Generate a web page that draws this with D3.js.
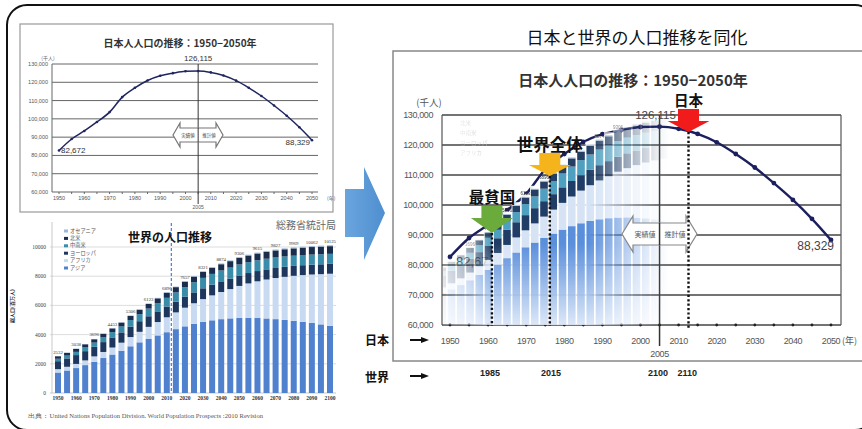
<!DOCTYPE html>
<html><head><meta charset="utf-8">
<script src="https://cdn.jsdelivr.net/npm/d3@7"></script>
<style>body{margin:0;background:#fff;}svg{display:block;}</style>
</head><body>
<svg id="c" width="862" height="429"></svg>
<script>
// ---------------- DATA ----------------
const jpYears = [1950,1955,1960,1965,1970,1975,1980,1985,1990,1995,2000,2005,2010,2015,2020,2025,2030,2035,2040,2045,2050];
const jpPop = [82672,89000,93400,98300,103700,111900,117000,121000,123600,125000,126000,126115,125400,123700,120900,117000,112500,107300,101700,95400,88329];
const jpYTicks = [60000,70000,80000,90000,100000,110000,120000,130000];
const jpXTicks = [1950,1960,1970,1980,1990,2000,2010,2020,2030,2040,2050];
const jpLabels = ["82,672","126,115","88,329"];

const worldYears = [1950,1955,1960,1965,1970,1975,1980,1985,1990,1995,2000,2005,2010,2015,2020,2025,2030,2035,2040,2045,2050,2055,2060,2065,2070,2075,2080,2085,2090,2095,2100];
const asia     = [1403,1542,1708,1910,2142,2395,2636,2896,3199,3470,3719,3945,4164,4375,4565,4730,4868,4978,5058,5110,5142,5150,5136,5105,5060,5006,4945,4878,4808,4700,4596];
const africa   = [229,254,285,322,366,416,478,550,632,720,811,916,1022,1145,1278,1417,1562,1710,1859,2008,2192,2355,2514,2668,2815,2952,3081,3198,3307,3440,3574];
const europe   = [547,575,604,634,656,676,693,706,721,727,727,729,738,740,744,744,741,736,730,723,719,711,702,694,688,684,680,678,676,675,675];
const latam    = [167,191,220,253,288,325,364,404,445,486,526,563,596,630,662,690,715,734,746,752,751,747,740,731,721,711,700,694,690,688,687];
const namerica = [172,187,204,219,231,242,254,267,282,300,316,331,345,361,376,391,405,418,428,438,447,456,465,474,482,491,500,508,516,523,526];
const oceania  = [13,14,16,18,20,21,23,25,27,29,31,34,37,39,42,45,47,50,52,54,55,57,58,60,61,62,63,64,65,66,66];
const worldTotalYears  = [1950,1960,1970,1980,1990,2000,2010,2020,2030,2040,2050,2060,2070,2080,2090,2100];
const worldTotalLabels = ["2532","3038","3696","4453","5306","6123","6896","7657","8321","8874","9306","9615","9827","9969","10062","10125"];
const overlayLabelYears = [1970,1980,1990,2000,2010,2040,2050];
const worldYTicks = [0,2000,4000,6000,8000,10000];
const worldXTicks = [1950,1960,1970,1980,1990,2000,2010,2020,2030,2040,2050,2060,2070,2080,2090,2100];
const regionKeys = ["asia","africa","europe","latam","namerica","oceania"];
const legendNames = ["オセアニア","北米","中南米","ヨーロッパ","アフリカ","アジア"];
const legendKeys  = ["oceania","namerica","latam","europe","africa","asia"];

const markWorld = ["1985","2015","2100","2110"];
const markJp    = [1960.5,1976.5,2004.6,2012.3];
const dottedJp  = [1961,1976.2,2012.6];
const arrowLabels = ["最貧国","世界全体","日本"];

// ---------------- SETUP ----------------
const JP = "'Noto Sans CJK JP','Noto Sans',sans-serif";
const NUM = "'Liberation Sans',Arial,sans-serif";
const SERIF = "'Liberation Serif','DejaVu Serif',serif";
const svg = d3.select("#c");
svg.append("rect").attr("width",862).attr("height",429).attr("fill","#fff");
const defs = svg.append("defs");

const rows = worldYears.map((y,i)=>({year:y,asia:asia[i],africa:africa[i],europe:europe[i],latam:latam[i],namerica:namerica[i],oceania:oceania[i]}));
const stacked = d3.stack().keys(regionKeys)(rows);
const totals = worldYears.map((yr,i)=>asia[i]+africa[i]+europe[i]+latam[i]+namerica[i]+oceania[i]);

// outer rounded frame
svg.append("rect").attr("x",7).attr("y",5).attr("width",868).attr("height",425).attr("rx",20)
  .attr("fill","none").attr("stroke","#111").attr("stroke-width",2);

function doubleArrow(g, x0, x1, yc, hh, sh, hl, stroke){
  const p = `M${x0},${yc} L${x0+hl},${yc-hh} L${x0+hl},${yc-sh} L${x1-hl},${yc-sh} L${x1-hl},${yc-hh} L${x1},${yc} L${x1-hl},${yc+hh} L${x1-hl},${yc+sh} L${x0+hl},${yc+sh} L${x0+hl},${yc+hh} Z`;
  return g.append("path").attr("d",p).attr("fill","#fff").attr("stroke",stroke).attr("stroke-width",1.2);
}

// ---------------- TOP-LEFT: Japan chart ----------------
{
  const g = svg.append("g");
  g.append("rect").attr("x",20).attr("y",24).attr("width",313).attr("height",188)
    .attr("fill","#fff").attr("stroke","#999").attr("stroke-width",1.2);
  g.append("text").attr("x",180).attr("y",47).attr("text-anchor","middle")
    .attr("font-family",JP).attr("font-weight","bold").attr("font-size",10).attr("fill","#333")
    .text("日本人人口の推移：1950−2050年");
  const x = d3.scaleLinear().domain([1950,2050]).range([59,312]);
  const y = d3.scaleLinear().domain([60000,130000]).range([192,64]);
  g.selectAll("line.gl").data(jpYTicks).join("line")
    .attr("x1",52).attr("x2",318).attr("y1",d=>y(d)).attr("y2",d=>y(d))
    .attr("stroke","#666").attr("stroke-width",d=>d===60000?1.2:1);
  g.append("line").attr("x1",52).attr("x2",52).attr("y1",y(130000)).attr("y2",y(60000)).attr("stroke","#666");
  g.selectAll("text.yl").data(jpYTicks).join("text")
    .attr("x",48).attr("y",d=>y(d)+2).attr("text-anchor","end")
    .attr("font-family",NUM).attr("font-size",5.5).attr("fill","#555")
    .text(d=>d3.format(",")(d));
  g.append("text").attr("x",48).attr("y",60).attr("text-anchor","middle")
    .attr("font-family",JP).attr("font-size",5).attr("fill","#666").text("(千人)");
  g.selectAll("text.xl").data(jpXTicks).join("text")
    .attr("x",d=>x(d)).attr("y",200).attr("text-anchor","middle")
    .attr("font-family",NUM).attr("font-size",5.5).attr("fill","#555").text(d=>d);
  g.append("text").attr("x",327).attr("y",200).attr("font-family",JP).attr("font-size",5).attr("fill","#555").text("(年)");
  g.selectAll("line.tk").data(jpYears).join("line")
    .attr("x1",d=>x(d)).attr("x2",d=>x(d)).attr("y1",192).attr("y2",194).attr("stroke","#666");
  g.append("line").attr("x1",x(2005)).attr("x2",x(2005)).attr("y1",y(130000)).attr("y2",204).attr("stroke","#333").attr("stroke-width",1);
  g.append("text").attr("x",x(2005)).attr("y",209).attr("text-anchor","middle")
    .attr("font-family",NUM).attr("font-size",5).attr("fill","#555").text("2005");
  doubleArrow(g, 173, 223, 135, 12, 7, 7, "#777");
  g.append("line").attr("x1",x(2005)).attr("x2",x(2005)).attr("y1",128).attr("y2",142).attr("stroke","#333");
  g.append("text").attr("x",188).attr("y",137).attr("text-anchor","middle").attr("font-family",JP).attr("font-size",4.5).attr("fill","#444").text("実績値");
  g.append("text").attr("x",209).attr("y",137).attr("text-anchor","middle").attr("font-family",JP).attr("font-size",4.5).attr("fill","#444").text("推計値");
  const line = d3.line().x((d,i)=>x(jpYears[i])).y(d=>y(d)).curve(d3.curveMonotoneX);
  g.append("path").attr("d",line(jpPop)).attr("fill","none").attr("stroke","#1f2560").attr("stroke-width",1.5);
  g.selectAll("circle").data(jpPop).join("circle").attr("cx",(d,i)=>x(jpYears[i])).attr("cy",d=>y(d)).attr("r",1.3).attr("fill","#1f2560");
  g.append("text").attr("x",61).attr("y",153).attr("font-family",NUM).attr("font-size",8).attr("fill","#333").text(jpLabels[0]);
  g.append("text").attr("x",x(2005)).attr("y",61).attr("text-anchor","middle").attr("font-family",NUM).attr("font-size",8).attr("fill","#333").text(jpLabels[1]);
  g.append("text").attr("x",310).attr("y",145).attr("text-anchor","end").attr("font-family",NUM).attr("font-size",8).attr("fill","#333").text(jpLabels[2]);
}

// ---------------- BOTTOM-LEFT: World chart ----------------
const worldColors = {asia:"#4f81cf",africa:"#c8daf2",europe:"#1d375e",latam:"#3a8cab",namerica:"#1b2d4c",oceania:"#9db7d8"};
{
  const g = svg.append("g");
  const x = d3.scaleLinear().domain([1950,2100]).range([58,330]);
  const y = d3.scaleLinear().domain([0,10000]).range([393,247]);
  g.append("text").attr("x",336).attr("y",229).attr("text-anchor","end")
    .attr("font-family",JP).attr("font-size",10).attr("fill","#666").text("総務省統計局");
  g.selectAll("line.gl").data(worldYTicks).join("line")
    .attr("x1",50).attr("x2",336).attr("y1",d=>y(d)).attr("y2",d=>y(d))
    .attr("stroke",d=>d===0?"#bbb":"#d4d4d4").attr("stroke-width",0.8);
  g.append("line").attr("x1",52).attr("x2",52).attr("y1",222).attr("y2",393).attr("stroke","#bbb").attr("stroke-width",0.8);
  g.selectAll("text.yl").data(worldYTicks).join("text")
    .attr("x",46).attr("y",d=>y(d)+2).attr("text-anchor","end")
    .attr("font-family",SERIF).attr("font-size",5.5).attr("fill","#444").text(d=>d);
  g.append("text").attr("transform","translate(14,306) rotate(-90)").attr("text-anchor","middle")
    .attr("font-family",JP).attr("font-weight","bold").attr("font-size",5).attr("fill","#333").text("総人口(百万人)");
  g.selectAll("g.s").data(stacked).join("g").attr("fill",d=>worldColors[d.key])
    .selectAll("rect").data(d=>d).join("rect")
    .attr("x",d=>x(d.data.year)-3).attr("width",6)
    .attr("y",d=>y(d[1])).attr("height",d=>Math.max(0,y(d[0])-y(d[1])));
  g.selectAll("text.tl").data(worldTotalYears).join("text")
    .attr("x",d=>x(d)).attr("y",d=>y(totals[worldYears.indexOf(d)])-2.5).attr("text-anchor","middle")
    .attr("font-family",SERIF).attr("font-size",4.8).attr("fill","#333")
    .text((d,i)=>worldTotalLabels[i]);
  g.selectAll("text.xl").data(worldXTicks).join("text")
    .attr("x",d=>x(d)).attr("y",400).attr("text-anchor","middle")
    .attr("font-family",SERIF).attr("font-weight","bold").attr("font-size",5.5).attr("fill","#333").text(d=>d);
  g.append("line").attr("x1",x(2012.5)).attr("x2",x(2012.5)).attr("y1",223).attr("y2",393)
    .attr("stroke","#4a7fd4").attr("stroke-width",1.2).attr("stroke-dasharray","3,2");
  legendKeys.forEach((k,i)=>{
    g.append("rect").attr("x",64).attr("y",229.5+i*7.4).attr("width",4).attr("height",3).attr("fill",worldColors[k]);
    g.append("text").attr("x",70).attr("y",232.5+i*7.4).attr("font-family",JP).attr("font-size",5.2).attr("fill","#555").text(legendNames[i]);
  });
  g.append("text").attr("x",170).attr("y",242).attr("text-anchor","middle")
    .attr("font-family",JP).attr("font-weight","bold").attr("font-size",12).attr("fill","#111").text("世界の人口推移");
  g.append("text").attr("x",28).attr("y",418).attr("textLength",235).attr("lengthAdjust","spacingAndGlyphs")
    .attr("font-family",SERIF).attr("font-size",5.5).attr("fill","#555")
    .text("出典：United Nations Population Division. World Population Prospects :2010 Revision");
}

// ---------------- Big blue arrow ----------------
defs.append("linearGradient").attr("id","bg").attr("x1",0).attr("y1",0).attr("x2",1).attr("y2",0)
  .selectAll("stop").data([["0%","#6aa5dd"],["100%","#4f8fd0"]]).join("stop")
  .attr("offset",d=>d[0]).attr("stop-color",d=>d[1]);
svg.append("path").attr("d","M345,189 L364,189 L364,167 L385,213 L364,260 L364,237 L345,237 Z").attr("fill","url(#bg)");

// ---------------- RIGHT chart ----------------
{
  const g = svg.append("g");
  g.append("text").attr("x",637).attr("y",44).attr("text-anchor","middle")
    .attr("font-family",JP).attr("font-size",17).attr("fill","#111").text("日本と世界の人口推移を同化");
  g.append("rect").attr("x",393).attr("y",51).attr("width",500).attr("height",310)
    .attr("fill","#fff").attr("stroke","#888").attr("stroke-width",1.5);
  g.append("text").attr("x",633).attr("y",86).attr("text-anchor","middle")
    .attr("font-family",JP).attr("font-weight","bold").attr("font-size",15).attr("fill","#333")
    .text("日本人人口の推移：1950−2050年");
  const x = d3.scaleLinear().domain([1950,2050]).range([450,831]);
  const y = d3.scaleLinear().domain([60000,130000]).range([325,115]);
  g.selectAll("line.gl").data(jpYTicks).join("line")
    .attr("x1",442).attr("x2",841).attr("y1",d=>y(d)).attr("y2",d=>y(d))
    .attr("stroke","#444").attr("stroke-width",1.4);
  g.append("line").attr("x1",442).attr("x2",442).attr("y1",y(130000)).attr("y2",y(60000)).attr("stroke","#555").attr("stroke-width",1.2);
  g.append("line").attr("x1",841).attr("x2",841).attr("y1",y(130000)).attr("y2",y(60000)).attr("stroke","#555").attr("stroke-width",1.2);
  g.selectAll("text.yl").data(jpYTicks).join("text")
    .attr("x",433).attr("y",d=>y(d)+3).attr("text-anchor","end")
    .attr("font-family",NUM).attr("font-size",9).attr("letter-spacing",-0.4).attr("fill","#555")
    .text(d=>d3.format(",")(d));
  g.append("text").attr("x",429).attr("y",106).attr("text-anchor","middle")
    .attr("font-family",JP).attr("font-size",9.5).attr("fill","#555").text("(千人)");
  g.selectAll("text.xl").data(jpXTicks).join("text")
    .attr("x",d=>x(d)).attr("y",344).attr("text-anchor","middle")
    .attr("font-family",NUM).attr("font-size",9).attr("letter-spacing",-0.4).attr("fill","#555").text(d=>d);
  g.append("text").attr("x",842).attr("y",344).attr("font-family",JP).attr("font-size",9).attr("fill","#555").text("(年)");
  g.append("line").attr("x1",x(2005)).attr("x2",x(2005)).attr("y1",y(130000)).attr("y2",346).attr("stroke","#333").attr("stroke-width",1.5);
  g.append("text").attr("x",x(2005)).attr("y",357).attr("text-anchor","middle")
    .attr("font-family",NUM).attr("font-size",9).attr("letter-spacing",-0.4).attr("fill","#555").text("2005");
  g.selectAll("circle.tk").data(jpYears).join("circle")
    .attr("cx",d=>x(d)).attr("cy",y(60000)).attr("r",1.4).attr("fill","#222");

  // Japan line
  const line = d3.line().x((d,i)=>x(jpYears[i])).y(d=>y(d)).curve(d3.curveMonotoneX);
  g.append("path").attr("d",line(jpPop)).attr("fill","none").attr("stroke","#1b1f5e").attr("stroke-width",2.4);
  g.selectAll("circle.pt").data(jpPop).join("circle").attr("cx",(d,i)=>x(jpYears[i])).attr("cy",d=>y(d)).attr("r",2.4).attr("fill","#1b1f5e");
  g.append("text").attr("x",456).attr("y",266).attr("font-family",NUM).attr("font-size",13).attr("fill","#444").text(jpLabels[0]);
  g.append("text").attr("x",x(2005)-4).attr("y",119).attr("text-anchor","middle").attr("font-family",NUM).attr("font-size",11.5).attr("fill","#444").text(jpLabels[1]);
  g.append("text").attr("x",834).attr("y",250).attr("text-anchor","end").attr("font-family",NUM).attr("font-size",12).attr("fill","#444").text(jpLabels[2]);

  // ---- World overlay ----
  const wx = d3.scaleLinear().domain([1950,2100]).range([433,710.5]);
  const wy = d3.scaleLinear().domain([0,10000]).range([325,116]);
  const hg = defs.append("linearGradient").attr("id","hfade").attr("gradientUnits","userSpaceOnUse")
    .attr("x1",443).attr("y1",0).attr("x2",670).attr("y2",0);
  hg.selectAll("stop").data([[0,0.2],[0.12,0.5],[0.22,1],[0.64,1],[0.84,0.35],[0.95,0.08],[1,0]]).join("stop")
    .attr("offset",d=>d[0]).attr("stop-color","#fff").attr("stop-opacity",d=>d[1]);
  const vg = defs.append("linearGradient").attr("id","vfade").attr("gradientUnits","userSpaceOnUse")
    .attr("x1",0).attr("y1",110).attr("x2",0).attr("y2",326);
  vg.selectAll("stop").data([[0,1],[0.62,1],[1,0.2]]).join("stop")
    .attr("offset",d=>d[0]).attr("stop-color","#fff").attr("stop-opacity",d=>d[1]);
  defs.append("mask").attr("id","mh").attr("maskUnits","userSpaceOnUse").attr("x",0).attr("y",0).attr("width",862).attr("height",429)
    .append("rect").attr("x",443).attr("y",100).attr("width",240).attr("height",226).attr("fill","url(#hfade)");
  defs.append("mask").attr("id","mv").attr("maskUnits","userSpaceOnUse").attr("x",0).attr("y",0).attr("width",862).attr("height",429)
    .append("rect").attr("x",443).attr("y",100).attr("width",240).attr("height",226).attr("fill","url(#vfade)");
  const ovColors = {asia:"#5a8fdc",africa:"#d6e3f5",europe:"#1f3d66",latam:"#4f9fc0",namerica:"#243f63",oceania:"#a9bfd9"};
  const ogOuter = g.append("g").attr("mask","url(#mh)");
  ogOuter.selectAll("rect.bk").data(worldYears).join("rect")
    .attr("x",d=>wx(d)-4.7).attr("width",9.4)
    .attr("y",(d,i)=>wy(totals[i])-3).attr("height",(d,i)=>325-(wy(totals[i])-3))
    .attr("fill","#fff").attr("opacity",0.92);
  const og = ogOuter.append("g").attr("mask","url(#mv)");
  og.selectAll("g.s").data(stacked).join("g").attr("fill",d=>ovColors[d.key])
    .selectAll("rect").data(d=>d).join("rect")
    .attr("x",d=>wx(d.data.year)-3.8).attr("width",7.6)
    .attr("y",d=>wy(d[1])).attr("height",d=>Math.max(0,wy(d[0])-wy(d[1])));
  og.selectAll("text.tl").data(overlayLabelYears).join("text")
    .attr("x",d=>wx(d)).attr("y",d=>wy(totals[worldYears.indexOf(d)])-2).attr("text-anchor","middle")
    .attr("font-family",NUM).attr("font-size",4.5).attr("fill","#333")
    .text(d=>worldTotalLabels[worldTotalYears.indexOf(d)]);
  legendKeys.slice(1,5).forEach((k,i)=>{
    og.append("text").attr("x",460).attr("y",125+i*10).attr("font-family",JP).attr("font-size",5.5).attr("fill","#c8c8c8").text(legendNames[i+1]);
  });

  // 実績値/推計値 arrow
  doubleArrow(g, 622, 697, 234, 18, 11, 11, "#888");
  g.append("line").attr("x1",x(2005)).attr("x2",x(2005)).attr("y1",223).attr("y2",245).attr("stroke","#333").attr("stroke-width",1.5);
  g.append("text").attr("x",645).attr("y",237).attr("text-anchor","middle").attr("font-family",JP).attr("font-size",7).attr("fill","#555").text("実績値");
  g.append("text").attr("x",675).attr("y",237).attr("text-anchor","middle").attr("font-family",JP).attr("font-size",7).attr("fill","#555").text("推計値");

  // dotted lines
  const tips = [233,176,132];
  dottedJp.forEach((yr,i)=>{
    g.append("line").attr("x1",x(yr)).attr("x2",x(yr)).attr("y1",tips[i]).attr("y2",i===2?330:326)
      .attr("stroke","#111").attr("stroke-width",2.4).attr("stroke-dasharray","2.2,2.2");
  });
  function downArrow(cx, top, sw, hw, htop, tip, color){
    const p = `M${cx-sw/2},${top} L${cx+sw/2},${top} L${cx+sw/2},${htop} L${cx+hw/2},${htop} L${cx},${tip} L${cx-hw/2},${htop} L${cx-sw/2},${htop} Z`;
    g.append("path").attr("d",p).attr("fill",color);
  }
  const arrowColors = ["#6aab3c","#f6b41c","#f21b1b"];
  const arrowTops = [206,153,109];
  const labelY = [203,151,106];
  const labelSize = [15.5,16.5,14.5];
  dottedJp.forEach((yr,i)=>{
    const cx = x(yr);
    downArrow(cx, arrowTops[i], 21, 42, arrowTops[i]+12, tips[i], arrowColors[i]);
    g.append("text").attr("x",cx).attr("y",labelY[i]).attr("text-anchor","middle")
      .attr("font-family",JP).attr("font-weight","bold").attr("font-size",labelSize[i]).attr("fill","#111")
      .text(arrowLabels[i]);
  });

  // bottom row: 日本 / 世界
  [["日本",345,340],["世界",382,376]].forEach(d=>{
    g.append("text").attr("x",365).attr("y",d[1]).attr("font-family",JP).attr("font-weight","bold").attr("font-size",12).attr("fill","#111").text(d[0]);
    g.append("line").attr("x1",410).attr("x2",423).attr("y1",d[2]).attr("y2",d[2]).attr("stroke","#111").attr("stroke-width",2);
    g.append("path").attr("d",`M421,${d[2]-3} L429,${d[2]} L421,${d[2]+3} Z`).attr("fill","#111");
  });
  markWorld.forEach((t,i)=>{
    g.append("text").attr("x",x(markJp[i])).attr("y",376).attr("text-anchor","middle")
      .attr("font-family",NUM).attr("font-weight","bold").attr("font-size",9).attr("fill","#222").text(t);
  });
}
</script>
</body></html>
